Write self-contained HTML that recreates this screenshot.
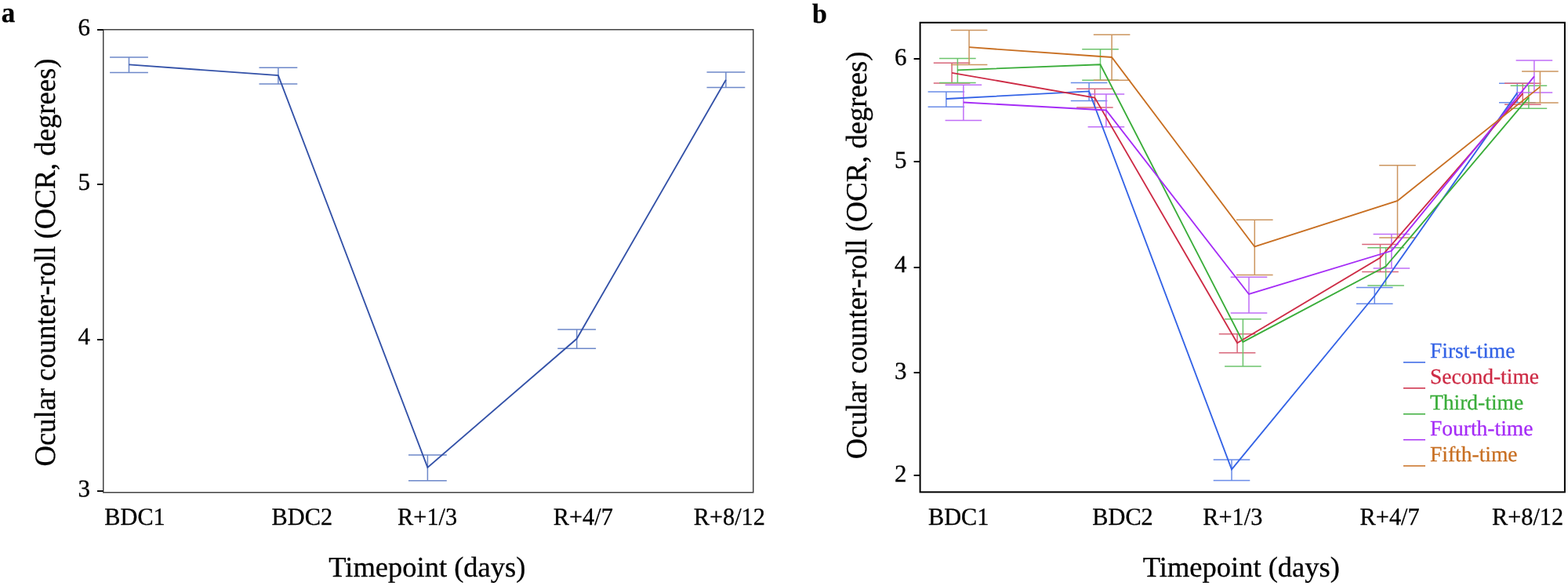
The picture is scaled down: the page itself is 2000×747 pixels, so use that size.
<!DOCTYPE html><html><head><meta charset="utf-8"><title>Ocular counter-roll</title><style>
html,body{margin:0;padding:0;background:#fff;width:2000px;height:747px;overflow:hidden}
svg{display:block}
text{font-family:"Liberation Serif", "Times New Roman", serif;fill:#000;stroke:#000;stroke-width:0.3px;text-rendering:geometricPrecision}
</style></head><body>
<svg width="2000" height="747" viewBox="0 0 2000 747">
<rect width="2000" height="747" fill="#fff"/>
<text font-weight="bold" font-size="35" transform="translate(1.7 28.3) scale(1.0 1.04)">a</text>
<text font-weight="bold" font-size="34" transform="translate(1036 28.9) scale(1.0 1.03)">b</text>
<g fill="none" stroke="#424242" stroke-width="1.5">
<rect x="131.75" y="37.75" width="829" height="590"/>
</g>
<g stroke="#111" stroke-width="2">
<line x1="124" y1="38" x2="131.75" y2="38"/>
<line x1="124" y1="235" x2="131.75" y2="235"/>
<line x1="124" y1="433" x2="131.75" y2="433"/>
<line x1="124" y1="626" x2="131.75" y2="626"/>
</g>
<text x="115" y="44.8" font-size="31" text-anchor="end">6</text>
<text x="115" y="241.6" font-size="31" text-anchor="end">5</text>
<text x="115" y="439.3" font-size="31" text-anchor="end">4</text>
<text x="115" y="633" font-size="31" text-anchor="end">3</text>
<text font-size="30.3" transform="translate(133.3 668.85) scale(1 1.028)">BDC1</text>
<text font-size="30.3" transform="translate(346.6 668.85) scale(1 1.028)">BDC2</text>
<text font-size="30.3" transform="translate(507.1 668.85) scale(1 1.028)">R+1/3</text>
<text font-size="30.3" transform="translate(705.8 668.85) scale(1 1.028)">R+4/7</text>
<text font-size="30.3" transform="translate(884.7 668.85) scale(1 1.028)">R+8/12</text>
<text font-size="36.62" transform="translate(70.2 594.4) rotate(-90) scale(1 1.03)">Ocular counter-roll (OCR, degrees)</text>
<text font-size="36.5" transform="translate(419.3 735) scale(1 1.0)">Timepoint (days)</text>
<g stroke="#6d88c9" stroke-width="1.5" fill="none">
<path d="M140.1 73H188.9M140.1 92.5H188.9M164.5 73V92.5"/>
<path d="M330.5 86.3H379.3M330.5 106.9H379.3M354.9 86.3V106.9"/>
<path d="M521 580H569.8M521 612.8H569.8M545.4 580V612.8"/>
<path d="M711.3 420H760.1M711.3 444.3H760.1M735.7 420V444.3"/>
<path d="M901.5 92H950.3M901.5 111.6H950.3M925.9 92V111.6"/>
</g>
<polyline fill="none" stroke="#3452a8" stroke-width="1.85" stroke-linejoin="miter" points="164.5,82.3 354.9,96.2 545.4,595.9 735.7,431.8 925.9,101.8"/>
<rect x="1173.6" y="28.8" width="822.3" height="598.5" fill="none" stroke="#000" stroke-width="2"/>
<g stroke="#000" stroke-width="2">
<line x1="1165.6" y1="75" x2="1173.6" y2="75"/>
<line x1="1165.6" y1="206" x2="1173.6" y2="206"/>
<line x1="1165.6" y1="341" x2="1173.6" y2="341"/>
<line x1="1165.6" y1="475" x2="1173.6" y2="475"/>
<line x1="1165.6" y1="606" x2="1173.6" y2="606"/>
</g>
<text x="1156.5" y="83" font-size="31" text-anchor="end">6</text>
<text x="1156.5" y="213.5" font-size="31" text-anchor="end">5</text>
<text x="1156.5" y="347.4" font-size="31" text-anchor="end">4</text>
<text x="1156.5" y="482.8" font-size="31" text-anchor="end">3</text>
<text x="1156.5" y="614.3" font-size="31" text-anchor="end">2</text>
<text font-size="30.3" transform="translate(1184 668.85) scale(1 1.028)">BDC1</text>
<text font-size="30.3" transform="translate(1393.3 668.85) scale(1 1.028)">BDC2</text>
<text font-size="30.3" transform="translate(1534.3 668.85) scale(1 1.028)">R+1/3</text>
<text font-size="30.3" transform="translate(1734.6 668.85) scale(1 1.028)">R+4/7</text>
<text font-size="30.3" transform="translate(1903 668.85) scale(1 1.028)">R+8/12</text>
<text font-size="36.62" transform="translate(1105.2 585.3) rotate(-90) scale(1 1.03)">Ocular counter-roll (OCR, degrees)</text>
<text font-size="36.5" transform="translate(1457.8 735) scale(1 1.0)">Timepoint (days)</text>
<g stroke="#6a8ce8" stroke-width="1.5" fill="none">
<path d="M1183.6 116.9H1230.2M1183.6 136.3H1230.2M1206.9 116.9V136.3"/>
<path d="M1365.8 105.5H1412.4M1365.8 128.4H1412.4M1389.1 105.5V128.4"/>
<path d="M1547.7 586H1594.3M1547.7 612.5H1594.3M1571 586V612.5"/>
<path d="M1730 366.4H1776.6M1730 387.2H1776.6M1753.3 366.4V387.2"/>
<path d="M1912 106.3H1958.6M1912 130.7H1958.6M1935.3 106.3V130.7"/>
</g>
<g stroke="#d8677b" stroke-width="1.5" fill="none">
<path d="M1190.8 80.3H1237.4M1190.8 106.1H1237.4M1214.1 80.3V106.1"/>
<path d="M1373.1 113.3H1419.7M1373.1 137H1419.7M1396.4 113.3V137"/>
<path d="M1554.8 425.8H1601.4M1554.8 449.7H1601.4M1578.1 425.8V449.7"/>
<path d="M1737.2 311.5H1783.8M1737.2 346.5H1783.8M1760.5 311.5V346.5"/>
<path d="M1919 106.3H1965.6M1919 133.2H1965.6M1942.3 106.3V133.2"/>
</g>
<g stroke="#6cc46c" stroke-width="1.5" fill="none">
<path d="M1198.1 74.5H1244.7M1198.1 105.4H1244.7M1221.4 74.5V105.4"/>
<path d="M1380.2 62.8H1426.8M1380.2 102.3H1426.8M1403.5 62.8V102.3"/>
<path d="M1562.1 406.8H1608.7M1562.1 467H1608.7M1585.4 406.8V467"/>
<path d="M1744.3 315.7H1790.9M1744.3 363.9H1790.9M1767.6 315.7V363.9"/>
<path d="M1926.6 109.3H1973.2M1926.6 138.2H1973.2M1949.9 109.3V138.2"/>
</g>
<g stroke="#c06ef7" stroke-width="1.5" fill="none">
<path d="M1205.6 108.3H1252.2M1205.6 153.5H1252.2M1228.9 108.3V153.5"/>
<path d="M1387.6 119.9H1434.2M1387.6 161.8H1434.2M1410.9 119.9V161.8"/>
<path d="M1569.7 353.2H1616.3M1569.7 399H1616.3M1593 353.2V399"/>
<path d="M1751.6 298.4H1798.2M1751.6 342H1798.2M1774.9 298.4V342"/>
<path d="M1933.6 77H1980.2M1933.6 117.9H1980.2M1956.9 77V117.9"/>
</g>
<g stroke="#cc955f" stroke-width="1.5" fill="none">
<path d="M1212.8 38.5H1259.4M1212.8 82.5H1259.4M1236.1 38.5V82.5"/>
<path d="M1394.8 44.2H1441.4M1394.8 102.3H1441.4M1418.1 44.2V102.3"/>
<path d="M1577 280.3H1623.6M1577 350.6H1623.6M1600.3 280.3V350.6"/>
<path d="M1759.2 210.7H1805.8M1759.2 303H1805.8M1782.5 210.7V303"/>
<path d="M1941.1 90.9H1987.7M1941.1 131H1987.7M1964.4 90.9V131"/>
</g>
<polyline fill="none" stroke="#3463e6" stroke-width="1.85" points="1206.9,126 1389.1,116.4 1571,598.4 1753.3,377 1935.3,118.4"/>
<polyline fill="none" stroke="#cd2b45" stroke-width="1.85" points="1214.1,92.8 1396.4,124.6 1578.1,437.3 1760.5,328.6 1942.3,119.2"/>
<polyline fill="none" stroke="#3aad3a" stroke-width="1.85" points="1221.4,89.3 1403.5,82.3 1585.4,435.9 1767.6,339.5 1949.9,124.2"/>
<polyline fill="none" stroke="#a52cf6" stroke-width="1.85" points="1228.9,130.5 1410.9,140.5 1593,375 1774.9,319.8 1956.9,97.3"/>
<polyline fill="none" stroke="#c86f22" stroke-width="1.85" points="1236.1,60.2 1418.1,73 1600.3,314.5 1782.5,256 1964.4,110.6"/>
<line x1="1790" y1="461.9" x2="1818" y2="461.9" stroke="#3463e6" stroke-width="1.5"/>
<text x="1824" y="456" font-size="27.5" style="fill:#3463e6;stroke:#3463e6">First-time</text>
<line x1="1790" y1="494.8" x2="1818" y2="494.8" stroke="#cd2b45" stroke-width="1.5"/>
<text x="1824" y="488.9" font-size="27.5" style="fill:#cd2b45;stroke:#cd2b45">Second-time</text>
<line x1="1790" y1="527.8" x2="1818" y2="527.8" stroke="#3aad3a" stroke-width="1.5"/>
<text x="1824" y="521.9" font-size="27.5" style="fill:#3aad3a;stroke:#3aad3a">Third-time</text>
<line x1="1790" y1="560.6" x2="1818" y2="560.6" stroke="#a52cf6" stroke-width="1.5"/>
<text x="1824" y="554.7" font-size="27.5" style="fill:#a52cf6;stroke:#a52cf6">Fourth-time</text>
<line x1="1790" y1="593.9" x2="1818" y2="593.9" stroke="#c86f22" stroke-width="1.5"/>
<text x="1824" y="588" font-size="27.5" style="fill:#c86f22;stroke:#c86f22">Fifth-time</text>
</svg></body></html>
